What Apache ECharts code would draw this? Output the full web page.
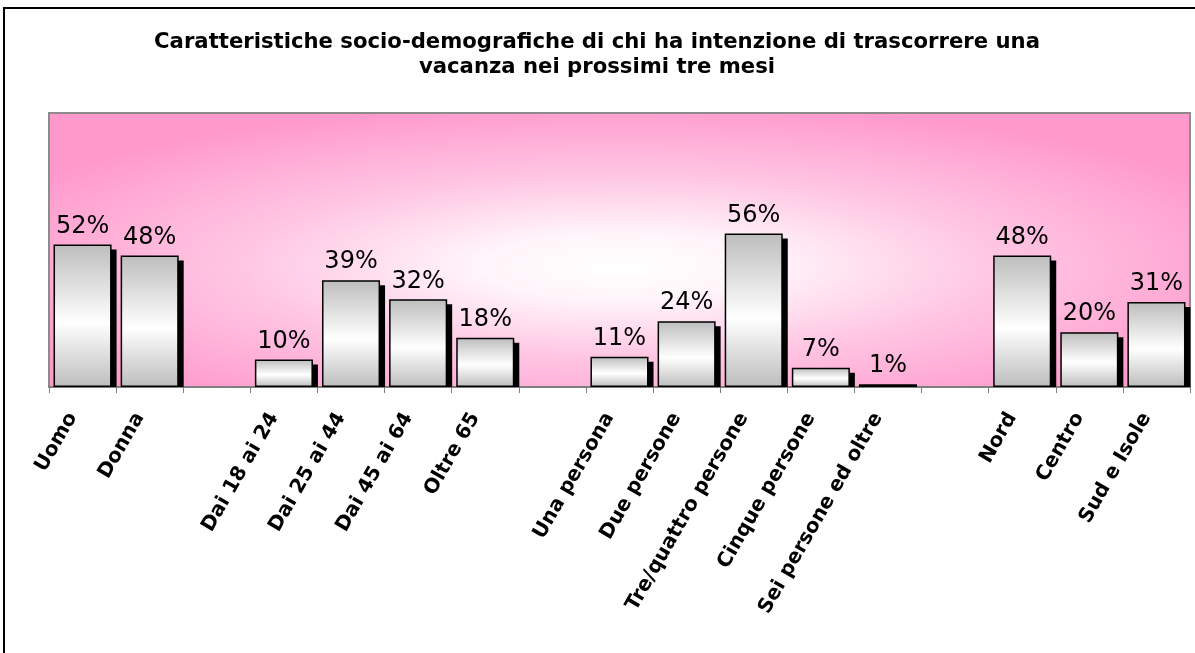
<!DOCTYPE html>
<html>
<head>
<meta charset="utf-8">
<script src="https://cdn.jsdelivr.net/npm/echarts@6/dist/echarts.min.js"></script>
<style>
html,body{margin:0;padding:0;background:#fff;}
#chart{width:1195px;height:653px;}
</style>
</head>
<body>
<div id="chart"></div>
<script>
var titleLines = ['Caratteristiche socio-demografiche di chi ha intenzione di trascorrere una', 'vacanza nei prossimi tre mesi'];
var categories = ['Uomo', 'Donna', '', 'Dai 18 ai 24', 'Dai 25 ai 44', 'Dai 45 ai 64', 'Oltre 65', '', 'Una persona', 'Due persone', 'Tre/quattro persone', 'Cinque persone', 'Sei persone ed oltre', '', 'Nord', 'Centro', 'Sud e Isole'];
var values = [52, 48, null, 10, 39, 32, 18, null, 11, 24, 56, 7, 1, null, 48, 20, 31];

var GRID = {left: 49, top: 113, right: 5, bottom: 266};
var BAR_FRAC = 0.865;
var SHADOW = 5;

var chart = echarts.init(document.getElementById('chart'));
var gw = 1195 - GRID.left - GRID.right;
var gh = 653 - GRID.top - GRID.bottom;

var option = {
  animation: false,
  backgroundColor: '#ffffff',
  title: {
    text: titleLines.join('\n'),
    left: 592,
    textAlign: 'center',
    top: 25,
    textStyle: {fontFamily: 'DejaVu Sans', fontWeight: 'bold', fontSize: 21.2, lineHeight: 25, color: '#000'}
  },
  graphic: [
    {
      type: 'rect', z: -10, silent: true,
      x: GRID.left, y: GRID.top,
      scaleX: gw / gh,
      shape: {x: 0, y: 0, width: gh, height: gh},
      style: {
        fill: new echarts.graphic.RadialGradient(0.5, 0.56, 0.6, [
          {offset: 0, color: '#ffffff'},
          {offset: 0.2, color: '#fff5fa'},
          {offset: 0.55, color: '#ffc6e3'},
          {offset: 1, color: '#ff99cc'}
        ])
      }
    },
    {
      type: 'rect', z: 10, silent: true,
      shape: {x: 4, y: 8, width: 1260, height: 700},
      style: {fill: 'none', stroke: '#000', lineWidth: 2}
    }
  ],
  grid: {
    left: GRID.left, top: GRID.top, right: GRID.right, bottom: GRID.bottom,
    show: true, backgroundColor: 'transparent', borderColor: '#8c8c8c', borderWidth: 2
  },
  xAxis: {
    type: 'category',
    data: categories,
    boundaryGap: true,
    axisLine: {show: true, lineStyle: {color: '#7f7f7f', width: 2}},
    axisTick: {show: true, interval: 0, length: 6, lineStyle: {color: '#7f7f7f', width: 1}},
    axisLabel: {
      interval: 0, rotate: 60, margin: 10, padding: [0, 20, 0, 0],
      fontFamily: 'DejaVu Sans', fontWeight: 'bold', fontSize: 20, color: '#000'
    },
    splitLine: {show: false}
  },
  yAxis: {
    type: 'value', min: 0, max: 100,
    axisLine: {show: false}, axisTick: {show: false}, axisLabel: {show: false}, splitLine: {show: false}
  },
  series: [
    {
      type: 'custom',
      z: 1,
      silent: true,
      data: values.map(function (v, i) { return [i, v]; }),
      renderItem: function (params, api) {
        var v = api.value(1);
        if (v == null || isNaN(v)) return null;
        var top = api.coord([api.value(0), v]);
        var base = api.coord([api.value(0), 0]);
        var w = api.size([1, 0])[0] * BAR_FRAC;
        var h = base[1] - top[1] - SHADOW;
        if (h <= 0) return null;
        return {
          type: 'rect',
          shape: {x: top[0] - w / 2 + SHADOW, y: top[1] + SHADOW, width: w, height: h},
          style: {fill: '#000'}
        };
      }
    },
    {
      type: 'bar',
      z: 3,
      data: values,
      barWidth: (BAR_FRAC * 100) + '%',
      itemStyle: {
        borderColor: '#000', borderWidth: 1.5,
        color: new echarts.graphic.LinearGradient(0, 0, 0, 1, [
          {offset: 0, color: '#bdbdbd'},
          {offset: 0.55, color: '#ffffff'},
          {offset: 1, color: '#bdbdbd'}
        ])
      },
      label: {
        show: true, position: 'top', distance: 6,
        formatter: function (p) { return p.value + '%'; },
        fontFamily: 'DejaVu Sans', fontSize: 24, color: '#000'
      }
    }
  ]
};
chart.setOption(option);
</script>
</body>
</html>
